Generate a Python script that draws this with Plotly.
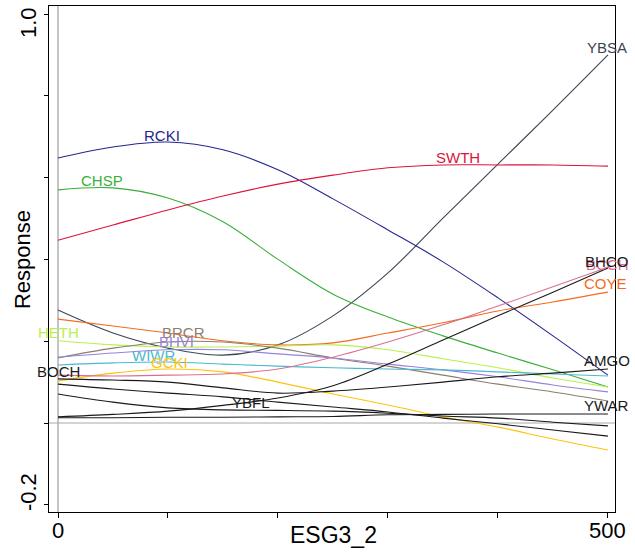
import plotly.graph_objects as go

# ---- data ----
esg = [0, 50, 100, 150, 200, 250, 300, 350, 400, 450, 500]

YBSA = [0.276, 0.220, 0.183, 0.166, 0.191, 0.262, 0.367, 0.501, 0.633, 0.765, 0.900]
RCKI = [0.648, 0.675, 0.687, 0.668, 0.619, 0.548, 0.472, 0.394, 0.306, 0.213, 0.117]
CHSP = [0.570, 0.575, 0.550, 0.492, 0.400, 0.315, 0.259, 0.213, 0.171, 0.130, 0.088]
SWTH = [0.447, 0.484, 0.521, 0.555, 0.584, 0.606, 0.624, 0.631, 0.631, 0.631, 0.628]
COYE = [0.254, 0.237, 0.220, 0.201, 0.191, 0.196, 0.220, 0.245, 0.274, 0.296, 0.320]
HETH = [0.201, 0.191, 0.186, 0.186, 0.188, 0.191, 0.179, 0.157, 0.135, 0.110, 0.088]
BRCR = [0.159, 0.183, 0.198, 0.198, 0.183, 0.159, 0.139, 0.117, 0.095, 0.076, 0.054]
BHVI = [0.161, 0.171, 0.179, 0.179, 0.169, 0.159, 0.144, 0.130, 0.113, 0.093, 0.076]
WIWR = [0.142, 0.147, 0.149, 0.144, 0.139, 0.135, 0.132, 0.130, 0.125, 0.120, 0.115]
GCKI = [0.103, 0.122, 0.132, 0.125, 0.100, 0.071, 0.044, 0.015, -0.010, -0.039, -0.066]
BCCH = [0.117, 0.115, 0.117, 0.120, 0.132, 0.161, 0.198, 0.240, 0.286, 0.333, 0.381]
AMGO = [0.108, 0.105, 0.100, 0.086, 0.073, 0.078, 0.088, 0.100, 0.113, 0.122, 0.132]
BOCH = [0.095, 0.083, 0.073, 0.064, 0.051, 0.039, 0.027, 0.012, -0.002, -0.017, -0.032]
YBFL = [0.071, 0.051, 0.037, 0.032, 0.031, 0.029, 0.024, 0.017, 0.012, 0.002, -0.007]
BHCO = [0.015, 0.021, 0.029, 0.043, 0.061, 0.091, 0.144, 0.203, 0.262, 0.320, 0.379]
YWAR = [0.013, 0.013, 0.014, 0.014, 0.015, 0.016, 0.020, 0.021, 0.022, 0.022, 0.022]

species = {
    "YBSA": YBSA, "RCKI": RCKI, "CHSP": CHSP, "SWTH": SWTH, "COYE": COYE,
    "HETH": HETH, "BRCR": BRCR, "BHVI": BHVI, "WIWR": WIWR, "GCKI": GCKI,
    "BCCH": BCCH, "AMGO": AMGO, "BOCH": BOCH, "YBFL": YBFL, "BHCO": BHCO,
    "YWAR": YWAR,
}

colors = {
    "YBSA": "#3a4656", "RCKI": "#25258f", "CHSP": "#3aaf3a", "SWTH": "#dc143c",
    "COYE": "#f46a1f", "HETH": "#b8f04d", "BRCR": "#8c7e6e", "BHVI": "#9683dc",
    "WIWR": "#4db8d0", "GCKI": "#ffc20e", "BCCH": "#db7093", "AMGO": "#1a1a1a",
    "BOCH": "#1a1a1a", "YBFL": "#1a1a1a", "BHCO": "#1a1a1a", "YWAR": "#1a1a1a",
}

# label placement (x in ESG3_2 units, y in response units)
label_pos = [
    ("BCCH", 500, 0.387), ("YBSA", 499, 0.919), ("RCKI", 94.5, 0.704),
    ("CHSP", 40, 0.594), ("SWTH", 363.6, 0.648), ("BHCO", 499, 0.394),
    ("COYE", 498, 0.342), ("AMGO", 499, 0.152), ("YWAR", 499, 0.042),
    ("YBFL", 175.5, 0.049), ("BOCH", 0, 0.125), ("HETH", 0, 0.2225),
    ("BRCR", 114.5, 0.2225), ("BHVI", 108, 0.200), ("WIWR", 86.4, 0.166),
    ("GCKI", 101, 0.149),
]

fig = go.Figure()

# reference lines at x=0 and y=0
fig.add_shape(type="line", x0=0, x1=0, y0=0, y1=1, xref="x", yref="paper",
              line=dict(color="#c4c4c4", width=2), layer="below")
fig.add_shape(type="line", x0=0, x1=1, y0=0, y1=0, xref="paper", yref="y",
              line=dict(color="#a8a8a8", width=1), layer="below")

for name, vals in species.items():
    fig.add_trace(go.Scatter(x=esg, y=vals, mode="lines", name=name,
                             line=dict(color=colors[name], width=1.1,
                                       shape="spline", smoothing=1.0),
                             hoverinfo="skip", showlegend=False))

font = "Liberation Sans, Arial, sans-serif"
for name, lx, ly in label_pos:
    fig.add_annotation(x=lx, y=ly, xref="x", yref="y", text=name,
                       showarrow=False, xanchor="center", yanchor="middle",
                       font=dict(family=font, size=15, color=colors[name]))

def axis_text(text, x, y, xref, yref, angle=0, size=22):
    fig.add_annotation(x=x, y=y, xref=xref, yref=yref, text=text,
                       textangle=angle, showarrow=False,
                       xanchor="center", yanchor="middle",
                       font=dict(family=font, size=size, color="black"))

axis_text("1.0", -0.0371, 0.978, "paper", "y", angle=-90)
axis_text("-0.2", -0.0371, -0.169, "paper", "y", angle=-90)
axis_text("0", 0, -0.0356, "x", "paper")
axis_text("500", 500, -0.0356, "x", "paper")
axis_text("Response", -0.0477, 0.498, "paper", "paper", angle=-90)
axis_text("ESG3_2", 0.502, -0.0455, "paper", "paper", size=23)

fig.update_layout(
    width=635, height=552,
    margin=dict(l=49, r=20, t=6, b=40),
    paper_bgcolor="white", plot_bgcolor="white",
    xaxis=dict(range=[-8.18, 506.4], showgrid=False, zeroline=False,
               showline=True, mirror=True, linecolor="black", linewidth=1,
               ticks="outside", ticklen=5, tickcolor="black",
               tickvals=[0, 100, 200, 300, 400, 500], showticklabels=False),
    yaxis=dict(range=[-0.2176, 1.0196], showgrid=False, zeroline=False,
               showline=True, mirror=True, linecolor="black", linewidth=1,
               ticks="outside", ticklen=4, tickcolor="black",
               tickvals=[-0.2, 0, 0.2, 0.4, 0.6, 0.8, 1.0], showticklabels=False),
)

fig.write_html("out.html")
